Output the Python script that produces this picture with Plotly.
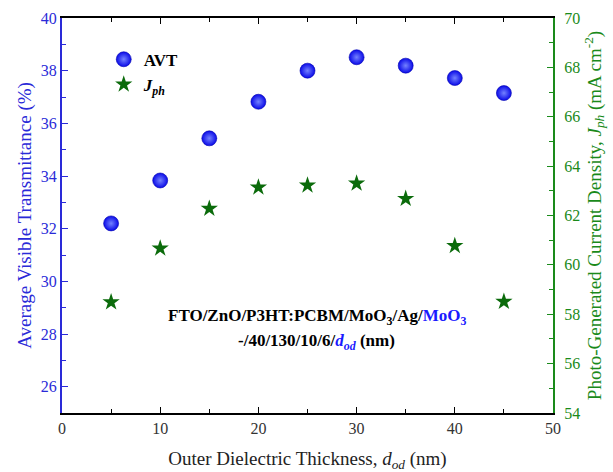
import plotly.graph_objects as go

thickness = [5, 10, 15, 20, 25, 30, 35, 40, 45]
avt = [32.2, 33.83, 35.43, 36.82, 38.0, 38.51, 38.19, 37.72, 37.15]
jph = [58.49, 60.67, 62.28, 63.14, 63.22, 63.30, 62.68, 60.77, 58.51]

BLUE = "#2a2ad8"
GREEN = "#1a8a1a"
STAR = "#0b6b0b"
FONT = "Liberation Serif"

fig = go.Figure()
fig.add_trace(go.Scatter(
    x=thickness, y=avt, mode="markers", name="<b>AVT</b>",
    marker=dict(symbol="circle", size=15, color="#0a0ae8",
                gradient=dict(type="radial", color="#7482ff"),
                line=dict(width=0.6, color="#0000b0")),
))
fig.add_trace(go.Scatter(
    x=thickness, y=jph, mode="markers", name="<b><i>J<sub>ph</sub></i></b>",
    yaxis="y2",
    marker=dict(symbol="star", size=13, color=STAR, line=dict(width=0)),
))

fig.add_annotation(
    x=0.519, y=0.243, xref="paper", yref="paper", showarrow=False,
    text="<b>FTO/ZnO/P3HT:PCBM/MoO<sub>3</sub>/Ag/<span style='color:#1a1aff'>MoO<sub>3</sub></span></b>",
    font=dict(family=FONT, size=17, color="black"), xanchor="center", yanchor="middle",
)
fig.add_annotation(
    x=0.519, y=0.18, xref="paper", yref="paper", showarrow=False,
    text="<b>-/40/130/10/6/<i><span style='color:#1a1aff'>d<sub>od</sub></span></i> (nm)</b>",
    font=dict(family=FONT, size=17, color="black"), xanchor="center", yanchor="middle",
)

fig.update_layout(
    width=613, height=472,
    margin=dict(l=62, r=60, t=18, b=59),
    plot_bgcolor="white", paper_bgcolor="white",
    font=dict(family=FONT, size=16),
    showlegend=True,
    legend=dict(x=0.085, y=0.94, xanchor="left", yanchor="top",
                bgcolor="rgba(0,0,0,0)", font=dict(family=FONT, size=17, color="black"),
                itemsizing="trace"),
    xaxis=dict(
        range=[0, 50], tickvals=[0, 10, 20, 30, 40, 50],
        ticks="inside", ticklen=6, tickcolor="black",
        minor=dict(tickvals=[5, 15, 25, 35, 45], ticks="inside", ticklen=4, tickcolor="black"),
        showline=True, linecolor="black", linewidth=2, mirror="ticks",
        showgrid=False, zeroline=False, automargin=False,
        tickfont=dict(family=FONT, size=16, color="#333"),
        title=dict(text="Outer Dielectric Thickness, <i>d<sub>od</sub></i> (nm)",
                   font=dict(family=FONT, size=19, color="#222"), standoff=16),
    ),
    yaxis=dict(
        range=[25, 40], tickvals=[26, 28, 30, 32, 34, 36, 38, 40],
        ticks="inside", ticklen=6, tickcolor=BLUE,
        minor=dict(tickvals=[25, 27, 29, 31, 33, 35, 37, 39], ticks="inside", ticklen=4, tickcolor=BLUE),
        showline=True, linecolor=BLUE, linewidth=2,
        showgrid=False, zeroline=False, automargin=False,
        tickfont=dict(family=FONT, size=16, color=BLUE),
        title=dict(text="Average Visible Transmittance (%)",
                   font=dict(family=FONT, size=19, color=BLUE), standoff=4),
    ),
    yaxis2=dict(
        range=[54, 70], tickvals=[54, 56, 58, 60, 62, 64, 66, 68, 70],
        overlaying="y", side="right",
        ticks="inside", ticklen=6, tickcolor=GREEN,
        minor=dict(tickvals=[55, 57, 59, 61, 63, 65, 67, 69], ticks="inside", ticklen=4, tickcolor=GREEN),
        showline=True, linecolor=GREEN, linewidth=2,
        showgrid=False, zeroline=False, automargin=False,
        ticklabelstandoff=6,
        tickfont=dict(family=FONT, size=16, color=GREEN),
        title=dict(text="Photo-Generated Current Density, <i>J<sub>ph</sub></i> (mA cm<sup>-2</sup>)",
                   font=dict(family=FONT, size=19, color=GREEN), standoff=8),
    ),
)

fig.write_html("out.html")
